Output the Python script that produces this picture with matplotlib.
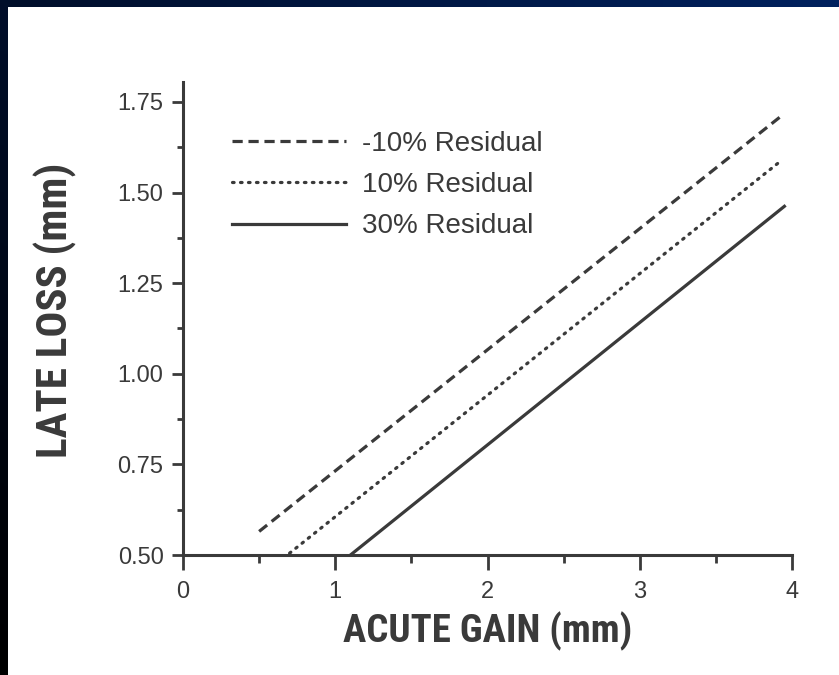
import numpy as np
import matplotlib
matplotlib.use("Agg")
import matplotlib.pyplot as plt
from matplotlib.patches import Rectangle
from matplotlib.ticker import MultipleLocator, FixedLocator

# values
labels = ["-10% Residual", "10% Residual", "30% Residual"]
neg10_x = [0.50, 3.92]
neg10_y = [0.565, 1.708]
pos10_x = [0.70, 3.92]
pos10_y = [0.505, 1.585]
pos30_x = [1.10, 3.95]
pos30_y = [0.50, 1.462]

y_ticks = [0.50, 0.75, 1.00, 1.25, 1.50, 1.75]
x_ticks = [0, 1, 2, 3, 4]

ink = "#3a3a3a"
plt.rcParams["font.family"] = ["Liberation Sans", "DejaVu Sans"]
narrow = ["Roboto Condensed", "Liberation Sans Narrow", "Liberation Sans", "DejaVu Sans"]

fig = plt.figure(figsize=(8.39, 6.75), dpi=100, facecolor="white")

# dark slide border: gradient behind, white page on top
bg = fig.add_axes([0, 0, 1, 1], zorder=-10)
bg.set_axis_off()
c_tl = np.array([0x00, 0x0e, 0x2a]) / 255
c_tr = np.array([0x00, 0x21, 0x5e]) / 255
c_bl = np.array([0x00, 0x00, 0x00]) / 255
u = np.linspace(0, 1, 200)[None, :, None]
v = np.linspace(0, 1, 200)[:, None, None]
grad = c_tl + (c_tr - c_tl) * u + (c_bl - c_tl) * v
bg.imshow(np.clip(grad, 0, 1), extent=[0, 1, 0, 1], origin="upper", aspect="auto")
bg.add_patch(Rectangle((8 / 839, 0), 1, 1 - 7 / 675, transform=bg.transAxes,
                       facecolor="white", edgecolor="none"))
bg.set_xlim(0, 1)
bg.set_ylim(0, 1)

ax = fig.add_axes([183 / 839, 1 - 555 / 675, 609 / 839, 473 / 675])
ax.set_facecolor("none")

ax.plot(neg10_x, neg10_y, color=ink, lw=2.3, linestyle=(0, (3.2, 1.8)), label=labels[0])
ax.plot(pos10_x, pos10_y, color=ink, lw=2.3, linestyle=(0, (0.5, 2.0)),
        dash_capstyle="round", label=labels[1])
ax.plot(pos30_x, pos30_y, color=ink, lw=2.3, linestyle="-", label=labels[2])

ax.set_xlim(0, 4)
ax.set_ylim(0.5, 1.805)
ax.xaxis.set_major_locator(FixedLocator(x_ticks))
ax.xaxis.set_minor_locator(MultipleLocator(0.5))
ax.yaxis.set_major_locator(FixedLocator(y_ticks))
ax.yaxis.set_minor_locator(MultipleLocator(0.125))
ax.set_yticklabels([f"{t:.2f}" for t in y_ticks])
ax.set_xticklabels([str(t) for t in x_ticks])

for s in ["top", "right"]:
    ax.spines[s].set_visible(False)
for s in ["left", "bottom"]:
    ax.spines[s].set_color(ink)
    ax.spines[s].set_linewidth(2.2)

ax.tick_params(axis="both", which="both", color=ink, labelcolor=ink, width=2.0, labelsize=17)
ax.tick_params(axis="y", which="major", length=8, pad=6)
ax.tick_params(axis="y", which="minor", length=4)
ax.tick_params(axis="x", which="major", length=11, pad=8)
ax.tick_params(axis="x", which="minor", length=6)

ax.set_ylabel("LATE LOSS (mm)", fontsize=31, fontweight="bold", color=ink, family=narrow)
ax.set_xlabel("ACUTE GAIN (mm)", fontsize=28, fontweight="bold", color=ink, family=narrow)
ax.yaxis.set_label_coords(-0.174, 0.518)
ax.xaxis.set_label_coords(0.5, -0.12)

leg = ax.legend(loc="upper left", bbox_to_anchor=(0.08, 0.897), frameon=False,
                fontsize=20, handlelength=4.1, handletextpad=0.6, labelspacing=0.55,
                borderpad=0, borderaxespad=0)
for t in leg.get_texts():
    t.set_color(ink)

fig.savefig("out.png", dpi=100, facecolor=fig.get_facecolor())
